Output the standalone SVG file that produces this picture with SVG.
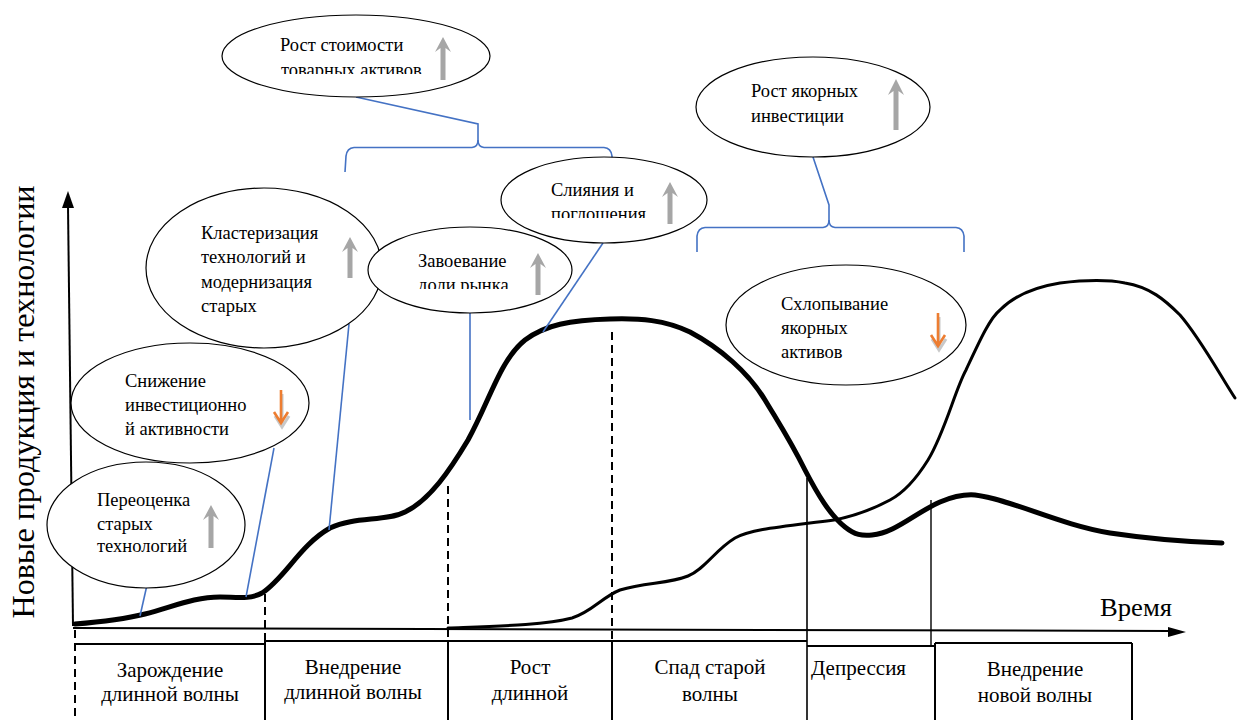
<svg xmlns="http://www.w3.org/2000/svg" width="1243" height="720" viewBox="0 0 1243 720">
<style>
.t{font-family:"Liberation Serif","DejaVu Serif","Times New Roman",serif;font-size:18.5px;fill:#000}
.tb{font-family:"Liberation Serif","DejaVu Serif","Times New Roman",serif;font-size:21px;fill:#000}
.tx{font-family:"Liberation Serif","DejaVu Serif","Times New Roman",serif;fill:#000}
.el{fill:#fff;stroke:#000;stroke-width:1.2}
.bl{fill:none;stroke:#4472C4;stroke-width:1.6}
.ga{fill:#A6A6A6}
.oa{fill:none;stroke:#ED7D31;stroke-width:2.6}
.os{fill:none;stroke:#9a9a9a;stroke-width:3;opacity:.55}
.ax{fill:none;stroke:#000;stroke-width:2}
.dash{fill:none;stroke:#000;stroke-width:2;stroke-dasharray:8 5}
.tbl{fill:none;stroke:#000;stroke-width:2}
.thick{fill:none;stroke:#000;stroke-width:5;stroke-linecap:round;stroke-linejoin:round}
.thin{fill:none;stroke:#000;stroke-width:3;stroke-linecap:round}
</style>
<defs>
<clipPath id="c1"><rect x="220" y="0" width="280" height="74"/></clipPath>
<clipPath id="c4"><rect x="370" y="220" width="210" height="69"/></clipPath>
<clipPath id="c5"><rect x="500" y="150" width="210" height="68"/></clipPath>
</defs>
<rect width="1243" height="720" fill="#fff"/>

<g id="axes">
<path class="ax" d="M73,626 L68,206"/>
<path d="M62,208 L68,191 L74,208 Z" fill="#000"/>
<text class="tx" transform="translate(34,402) rotate(-90)" text-anchor="middle" font-size="32" textLength="433" lengthAdjust="spacingAndGlyphs">Новые продукция и технологии</text>
<path class="ax" d="M73,628 L1172,631"/>
<path d="M1172,631 L1180,632" stroke="#888" stroke-width="1"/>
<path d="M1168,627 L1186,632 L1168,637 Z" fill="#000"/>
<text class="tx" x="1100" y="616" font-size="25" textLength="72" lengthAdjust="spacingAndGlyphs">Время</text>
</g>

<g id="phase-lines">
<path class="dash" d="M75,630 L75,720"/>
<path class="dash" d="M265,594 L265,641"/>
<path class="dash" d="M448,486 L448,641"/>
<path class="dash" d="M612,332 L612,641"/>
<path d="M807,478 L807,720" stroke="#000" stroke-width="1.6"/>
<path d="M931,500 L931,646" stroke="#000" stroke-width="1.4"/>
</g>

<g id="table">
<path class="tbl" d="M75,644 L265,644 M265,641 L807,641 M807,646 L935,646 M935,643 L1132,643"/>
<path class="tbl" d="M265,641 L265,720 M448,641 L448,720 M612,641 L612,720 M935,643 L935,720 M1132,643 L1132,720"/>
<text class="tb" x="170" y="677" text-anchor="middle">Зарождение</text>
<text class="tb" x="170" y="701" text-anchor="middle">длинной волны</text>
<text class="tb" x="353" y="674" text-anchor="middle">Внедрение</text>
<text class="tb" x="353" y="699" text-anchor="middle">длинной волны</text>
<text class="tb" x="530" y="674" text-anchor="middle">Рост</text>
<text class="tb" x="530" y="700" text-anchor="middle">длинной</text>
<text class="tb" x="710" y="674" text-anchor="middle">Спад старой</text>
<text class="tb" x="710" y="701" text-anchor="middle">волны</text>
<text class="tb" x="811" y="675">Депрессия</text>
<text class="tb" x="1035" y="676" text-anchor="middle">Внедрение</text>
<text class="tb" x="1035" y="702" text-anchor="middle">новой волны</text>
</g>

<g id="curves">
<path class="thin" d="M448,628 C500,626 545,625 572,618 C592,612 602,597 620,590 C645,582 668,584 688,576 C705,569 715,550 735,538 C752,529 780,527 834,520 C855,516 875,508 890,500 C905,492 918,476 928,460 C945,432 955,390 966,370 C980,340 990,318 1000,310 C1015,295 1035,287 1060,283 C1085,280 1110,280 1125,283 C1150,287 1165,300 1180,315 C1200,338 1220,375 1235,398"/>
<path class="thick" d="M75,624 C100,622 125,619 145,614 C175,606 195,597 220,597 C235,597 250,600 262,593 C285,578 300,545 330,528 C355,516 385,522 405,512 C430,500 450,470 468,440 C490,400 500,360 525,340 C545,325 570,320 610,319 C640,318 665,320 690,332 C720,348 748,372 765,400 C780,425 790,440 805,470 C818,495 830,515 845,527 C855,535 862,536 872,535 C895,533 915,513 940,502 C952,497 962,494 975,495 C1010,499 1060,525 1110,533 C1150,539 1190,542 1222,543"/>
</g>

<g id="connectors">
<path class="bl" d="M147,585 L140,616"/>
<path class="bl" d="M274,448 L246,597"/>
<path class="bl" d="M349,324 L329,530"/>
<path class="bl" d="M470,312 L470,420"/>
<path class="bl" d="M603,243 L543,332"/>
<path class="bl" d="M356,97 L478,124 L478,140 Q478,147 472,147.5 L354,147.5 Q347,148 346,156 L345,172"/>
<path class="bl" d="M478,140 Q478,147 484,147.5 L604,147.5 Q611,148 612,156 L612,170"/>
<path class="bl" d="M813,157 L829,205 L829,220 Q829,227 823,227.5 L705,227.5 Q698,228 697,236 L697,252"/>
<path class="bl" d="M829,220 Q829,227 835,227.5 L956,227.5 Q963,228 964,236 L964,252"/>
</g>

<g id="node-rost-stoimosti">
<ellipse class="el" cx="356" cy="56" rx="134" ry="41"/>
<text class="t" x="280" y="51">Рост стоимости</text>
<text class="t" x="281" y="76" clip-path="url(#c1)">товарных активов</text>
<path class="ga" d="M443,37 L451,52 L445.5,48 L445.5,80 L440.5,80 L440.5,48 L435,52 Z"/>
</g>

<g id="node-rost-yakornyh">
<ellipse class="el" cx="813" cy="107" rx="117" ry="50"/>
<text class="t" x="751" y="97">Рост якорных</text>
<text class="t" x="751" y="122">инвестиции</text>
<path class="ga" d="M896,79 L904,95 L898.5,91 L898.5,130 L893.5,130 L893.5,91 L888,95 Z"/>
</g>

<g id="node-klasterizaciya">
<ellipse class="el" cx="264" cy="268" rx="118" ry="80"/>
<text class="t" x="201" y="239">Кластеризация</text>
<text class="t" x="201" y="263">технологий и</text>
<text class="t" x="201" y="288">модернизация</text>
<text class="t" x="201" y="312">старых</text>
<path class="ga" d="M350,237 L358,252 L352.5,248 L352.5,278 L347.5,278 L347.5,248 L342,252 Z"/>
</g>

<g id="node-zavoevanie">
<ellipse class="el" cx="470" cy="270" rx="102" ry="43"/>
<text class="t" x="418" y="267">Завоевание</text>
<text class="t" x="418" y="291" clip-path="url(#c4)">доли рынка</text>
<path class="ga" d="M538,253 L546,268 L540.5,264 L540.5,295 L535.5,295 L535.5,264 L530,268 Z"/>
</g>

<g id="node-sliyaniya">
<ellipse class="el" cx="604" cy="200" rx="103" ry="43"/>
<text class="t" x="551" y="196">Слияния и</text>
<text class="t" x="551" y="220" clip-path="url(#c5)">поглощения</text>
<path class="ga" d="M670,182 L678,197 L672.5,193 L672.5,224 L667.5,224 L667.5,193 L662,197 Z"/>
</g>

<g id="node-shlopyvanie">
<ellipse class="el" cx="846" cy="325" rx="120" ry="60"/>
<text class="t" x="781" y="310">Схлопывание</text>
<text class="t" x="781" y="334">якорных</text>
<text class="t" x="781" y="358">активов</text>
<path class="os" d="M939,317 L939,350 M932,339 L939,350 L946,339"/>
<path class="oa" d="M938,313 L938,346 M931,335 L938,346 L945,335"/>
</g>

<g id="node-snizhenie">
<ellipse class="el" cx="190" cy="403" rx="119" ry="60"/>
<text class="t" x="125" y="387">Снижение</text>
<text class="t" x="125" y="411">инвестиционно</text>
<text class="t" x="125" y="435">й активности</text>
<path class="os" d="M282,394 L282,427 M275,416 L282,427 L289,416"/>
<path class="oa" d="M281,390 L281,423 M274,412 L281,423 L288,412"/>
</g>

<g id="node-pereocenka">
<ellipse class="el" cx="146" cy="525" rx="99" ry="63"/>
<text class="t" x="97" y="506">Переоценка</text>
<text class="t" x="97" y="530">старых</text>
<text class="t" x="97" y="552">технологий</text>
<path class="ga" d="M211,505 L219,520 L213.5,516 L213.5,548 L208.5,548 L208.5,516 L203,520 Z"/>
</g>
</svg>
